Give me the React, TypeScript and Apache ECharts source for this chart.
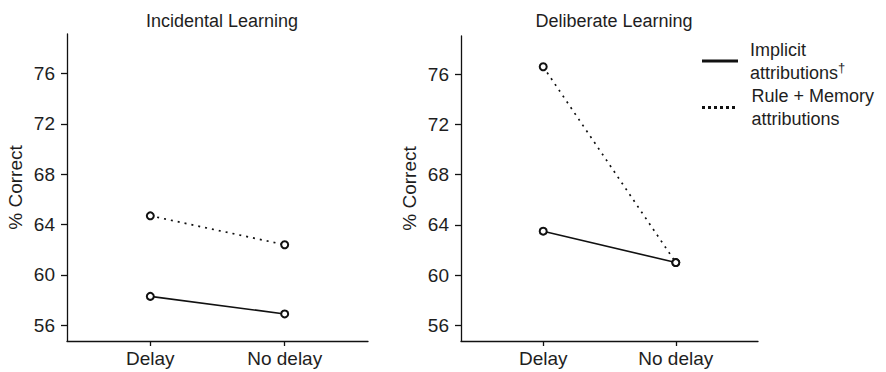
import React, { useEffect, useRef } from "react";
import * as echarts from "echarts";

const categories = ["Delay", "No delay"];
const yTicks = [56, 60, 64, 68, 72, 76];
const panelTitles = ["Incidental Learning", "Deliberate Learning"];
const incidentalImplicit = [58.3, 56.9];
const incidentalRuleMemory = [64.7, 62.4];
const deliberateImplicit = [63.5, 61.0];
const deliberateRuleMemory = [76.6, 61.0];

const FONT = "'Liberation Sans', Arial, Helvetica, sans-serif";
const TXT = "#1e1e1e";

export default function App() {
  const ref = useRef<HTMLDivElement>(null);
  useEffect(() => {
    if (!ref.current) return;
    const chart = echarts.init(ref.current, undefined, { renderer: "svg" });
    const toPts = (arr: number[]) => arr.map((v, i) => [i, v]);
    const xAxis = (gridIndex: number) => ({
      type: "value",
      gridIndex,
      min: -0.62,
      max: 1.62,
      splitLine: { show: false },
      axisLine: { show: true, onZero: false, lineStyle: { color: "#111", width: 1.3 } },
      axisTick: { show: true, customValues: [0, 1], length: 5, lineStyle: { color: "#111", width: 1.3 } },
      axisLabel: {
        customValues: [0, 1],
        formatter: (v: number) => categories[Math.round(v)] ?? "",
        fontSize: 19,
        fontFamily: FONT,
        color: TXT,
        margin: 8,
      },
    });
    const yAxis = (gridIndex: number, max: number) => ({
      type: "value",
      gridIndex,
      min: 54.75,
      max,
      name: "% Correct",
      nameLocation: "middle",
      nameGap: 42,
      nameTextStyle: { fontSize: 19, fontFamily: FONT, color: TXT },
      splitLine: { show: false },
      axisLine: { show: true, onZero: false, lineStyle: { color: "#111", width: 1.3 } },
      axisTick: { show: true, customValues: yTicks, length: 6, lineStyle: { color: "#111", width: 1.3 } },
      axisLabel: {
        customValues: yTicks,
        fontSize: 19,
        fontFamily: FONT,
        color: TXT,
        margin: 12,
      },
    });
    const solid = { color: "#111", width: 1.6, type: "solid" };
    const dotted = { color: "#111", width: 1.7, type: [2, 5] };
    const mk = (data: number[], gi: number, ls: any, name: string) => ({
      type: "line",
      name,
      xAxisIndex: gi,
      yAxisIndex: gi,
      data: toPts(data),
      symbol: "emptyCircle",
      symbolSize: 7,
      lineStyle: ls,
      itemStyle: { color: "#111", borderWidth: 0.9 },
      z: 3,
    });
    chart.setOption({
      animation: false,
      backgroundColor: "#fff",
      title: [
        {
          text: panelTitles[0],
          left: 217,
          top: 7,
          textAlign: "center",
          textStyle: { fontSize: 18, fontWeight: "normal", fontFamily: FONT, color: TXT },
        },
        {
          text: panelTitles[1],
          left: 609,
          top: 7,
          textAlign: "center",
          textStyle: { fontSize: 18, fontWeight: "normal", fontFamily: FONT, color: TXT },
        },
      ],
      grid: [
        { left: 67, top: 34, width: 301, height: 307 },
        { left: 461, top: 36, width: 297, height: 305 },
      ],
      xAxis: [xAxis(0), xAxis(1)],
      yAxis: [yAxis(0, 79.15), yAxis(1, 79.05)],
      series: [
        mk(incidentalImplicit, 0, solid, "Implicit attributions"),
        mk(incidentalRuleMemory, 0, dotted, "Rule + Memory attributions"),
        mk(deliberateImplicit, 1, solid, "Implicit attributions"),
        mk(deliberateRuleMemory, 1, dotted, "Rule + Memory attributions"),
      ],
      graphic: [
        { type: "line", shape: { x1: 702, y1: 61, x2: 738, y2: 61 }, style: { stroke: "#111", lineWidth: 3 } },
        { type: "line", shape: { x1: 702, y1: 107.5, x2: 738, y2: 107.5 }, style: { stroke: "#111", lineWidth: 3, lineDash: [3, 3] } },
        {
          type: "text",
          x: 750,
          y: 38,
          style: {
            text: "Implicit\nattributions{sup|†}",
            fontSize: 18,
            fontFamily: FONT,
            fill: TXT,
            lineHeight: 23,
            verticalAlign: "top",
            rich: { sup: { fontSize: 13, verticalAlign: "top", lineHeight: 18, fill: TXT, fontFamily: FONT } },
          },
        },
        {
          type: "text",
          x: 751.5,
          y: 84,
          style: {
            text: "Rule + Memory\nattributions",
            fontSize: 18,
            fontFamily: FONT,
            fill: TXT,
            lineHeight: 23,
            verticalAlign: "top",
          },
        },
      ],
    });
    return () => chart.dispose();
  }, []);
  return (
    <div style={{ position: "fixed", left: 0, top: 0, width: 886, height: 372, background: "#fff" }}>
      <div ref={ref} style={{ width: 886, height: 372 }} />
    </div>
  );
}
